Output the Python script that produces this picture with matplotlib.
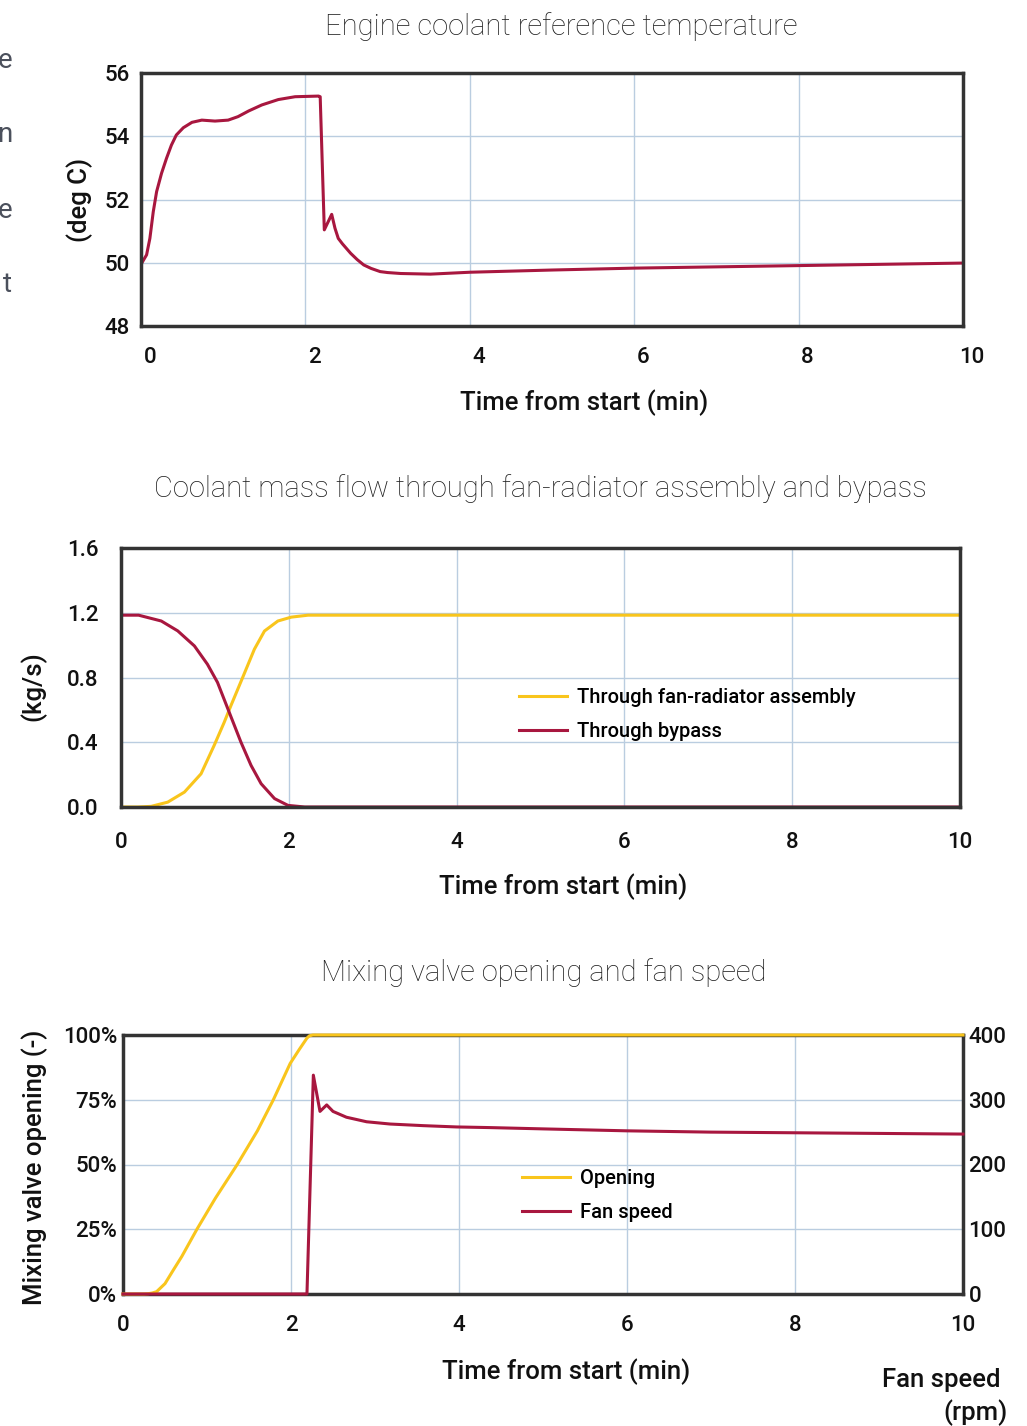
import numpy as np
import matplotlib
matplotlib.use("Agg")
import matplotlib.pyplot as plt
import matplotlib.transforms as mtransforms

# engine coolant temperature (deg C) vs time (min)
t_temp = [0, 0.007, 0.068, 0.108, 0.149, 0.19, 0.25, 0.31, 0.37, 0.43, 0.515,
          0.62, 0.74, 0.90, 1.06, 1.18, 1.31, 1.47, 1.67, 1.875, 2.16, 2.18,
          2.23, 2.32, 2.36, 2.40, 2.45, 2.55, 2.63, 2.71, 2.8, 2.91, 3.0,
          3.16, 3.52, 4.0, 5.0, 6.0, 7.0, 8.0, 9.0, 10.0]
temp = [50.0, 49.98, 50.25, 50.77, 51.61, 52.25, 52.83, 53.30, 53.72, 54.04,
        54.27, 54.44, 54.51, 54.48, 54.51, 54.62, 54.80, 54.99, 55.16, 55.25,
        55.27, 55.25, 51.04, 51.53, 51.09, 50.77, 50.6, 50.3, 50.1, 49.93,
        49.82, 49.72, 49.69, 49.66, 49.64, 49.7, 49.77, 49.83, 49.87, 49.91,
        49.95, 49.99]

# coolant mass flow (kg/s)
t_radiator = [0, 0.2, 0.36, 0.557, 0.756, 0.954, 1.11, 1.23, 1.31, 1.45,
              1.59, 1.71, 1.87, 2.03, 2.23, 10]
radiator = [0, 0, 0.004, 0.03, 0.092, 0.205, 0.38, 0.523, 0.626, 0.80,
            0.975, 1.087, 1.149, 1.173, 1.185, 1.185]
t_bypass = [0, 0.21, 0.48, 0.676, 0.875, 1.03, 1.15, 1.29, 1.43, 1.55, 1.67,
            1.83, 1.99, 2.19, 10]
bypass = [1.185, 1.185, 1.149, 1.088, 0.995, 0.882, 0.77, 0.585, 0.40, 0.257,
          0.144, 0.052, 0.01, 0, 0]

# mixing valve opening (%) and fan speed (rpm)
t_open = [0, 0.25, 0.3, 0.35, 0.4, 0.5, 0.6, 0.7, 0.88, 1.1, 1.36, 1.6,
          1.79, 1.99, 2.1, 2.19, 2.22, 2.26, 10]
opening = [0, 0, 0.1, 0.4, 0.9, 4, 9.3, 14.5, 25, 37, 50, 63, 75, 89, 94.5,
           98.8, 99.7, 100, 100]
t_fan = [0, 2.19, 2.266, 2.345, 2.425, 2.50, 2.66, 2.90, 3.18, 3.575, 3.97,
         4.37, 5, 6, 7, 8, 9, 10]
fan = [0, 0, 338, 282, 292, 282, 273, 266, 262.5, 260, 258, 257, 255, 252,
       250, 249, 248, 247]

x_ticks = [0, 2, 4, 6, 8, 10]
RED = "#A8173F"
YELLOW = "#F9C51C"
GRID = "#BACDE0"
SPINE = "#333333"
FONT = "Roboto"
INK = "#111111"

W, H = 1027, 1426
plt.rcParams["font.family"] = [FONT, "DejaVu Sans"]
fig = plt.figure(figsize=(W / 100, H / 100), dpi=100)


def box(left, top, right, bottom):
    return [left / W, 1 - bottom / H, (right - left) / W, (bottom - top) / H]


def ticks(ax, **kw):
    ax.tick_params(length=0, labelsize=16, colors=INK, **kw)
    for lab in ax.get_xticklabels() + ax.get_yticklabels():
        lab.set_fontweight("medium")


def style(ax, xpad, ypad):
    for s in ax.spines.values():
        s.set_color(SPINE)
        s.set_linewidth(2.5)
        s.set_zorder(5)
    ax.set_xlim(0, 10)
    ax.set_xticks(x_ticks)
    ax.grid(True, color=GRID, linewidth=1)
    ax.set_axisbelow(True)
    ax.tick_params(axis="x", pad=xpad)
    ax.tick_params(axis="y", pad=ypad)


def title(x, text, y):
    fig.text(x, 1 - y / H, text, ha="center", va="center", fontsize=21,
             fontweight="light", color="#1e1e1e")


def label(x, y, text, **kw):
    fig.text(x / W, 1 - y / H, text, va="center", fontsize=18.5,
             fontweight="medium", color=INK, **kw)


# left margin text fragments from the neighbouring page
for yy, s in [(60, "e"), (135, "n"), (210, "e"), (285, "t")]:
    fig.text(12 / W, 1 - yy / H, s, ha="right", va="center", fontsize=20,
             color="#4b505c")

# --- plot 1 ---
ax1 = fig.add_axes(box(141, 73, 963, 326))
style(ax1, 15, 8)
ax1.plot(t_temp, temp, color=RED, linewidth=2.2)
ax1.set_ylim(48, 56)
ax1.set_yticks([48, 50, 52, 54, 56])
ticks(ax1)
shift = mtransforms.ScaledTranslation(9 / 100, 0, fig.dpi_scale_trans)
for lab in ax1.get_xticklabels():
    lab.set_transform(lab.get_transform() + shift)
title(561 / W, "Engine coolant reference temperature", 27)
label(584, 403, "Time from start (min)", ha="center")
label(80, 200, "(deg C)", rotation=90, ha="center")

# --- plot 2 ---
ax2 = fig.add_axes(box(121, 548, 960, 807))
style(ax2, 18, 16)
ax2.plot(t_radiator, radiator, color=YELLOW, linewidth=2.2,
         label="Through fan-radiator assembly")
ax2.plot(t_bypass, bypass, color=RED, linewidth=2.2, label="Through bypass")
ax2.set_ylim(0, 1.6)
ax2.set_yticks([0, 0.4, 0.8, 1.2, 1.6])
ax2.set_yticklabels(["0.0", "0.4", "0.8", "1.2", "1.6"])
ticks(ax2)
ax2.legend(loc="upper left",
           bbox_to_anchor=((519 - 121 - 8) / 839, (807 - 680) / 259),
           frameon=False, prop={"size": 14.5, "weight": "medium"},
           handlelength=2.4, handletextpad=0.5, labelspacing=0.75,
           borderaxespad=0)
title(540 / W, "Coolant mass flow through fan-radiator assembly and bypass", 489)
label(563, 887, "Time from start (min)", ha="center")
label(33, 686, "(kg/s)", rotation=90, ha="center")

# --- plot 3 ---
ax3 = fig.add_axes(box(123, 1035, 963, 1294))
style(ax3, 15, 4)
ax3.set_ylim(0, 100)
ax3.set_yticks([0, 25, 50, 75, 100])
ax3.set_yticklabels(["0%", "25%", "50%", "75%", "100%"])
ticks(ax3)
ax3b = ax3.twinx()
ax3b.set_ylim(0, 400)
ax3b.set_yticks([0, 100, 200, 300, 400])
ticks(ax3b, pad=4)
for s in ax3b.spines.values():
    s.set_visible(False)
l1, = ax3.plot(t_open, opening, color=YELLOW, linewidth=2.2, label="Opening",
               clip_on=False, zorder=6)
l2, = ax3b.plot(t_fan, fan, color=RED, linewidth=2.2, label="Fan speed",
                clip_on=False, zorder=6)
ax3b.legend(handles=[l1, l2], loc="upper left",
            bbox_to_anchor=((522 - 123 - 8) / 840, (1294 - 1161) / 259),
            frameon=False, prop={"size": 14.5, "weight": "medium"},
            handlelength=2.4, handletextpad=0.5, labelspacing=0.75,
            borderaxespad=0)
title(544 / W, "Mixing valve opening and fan speed", 973)
label(566, 1372, "Time from start (min)", ha="center")
label(35, 1167, "Mixing valve opening (-)", rotation=90, ha="center")
label(1001, 1380, "Fan speed", ha="right")
label(1008, 1413, "(rpm)", ha="right")

fig.savefig("out.png", dpi=100)
